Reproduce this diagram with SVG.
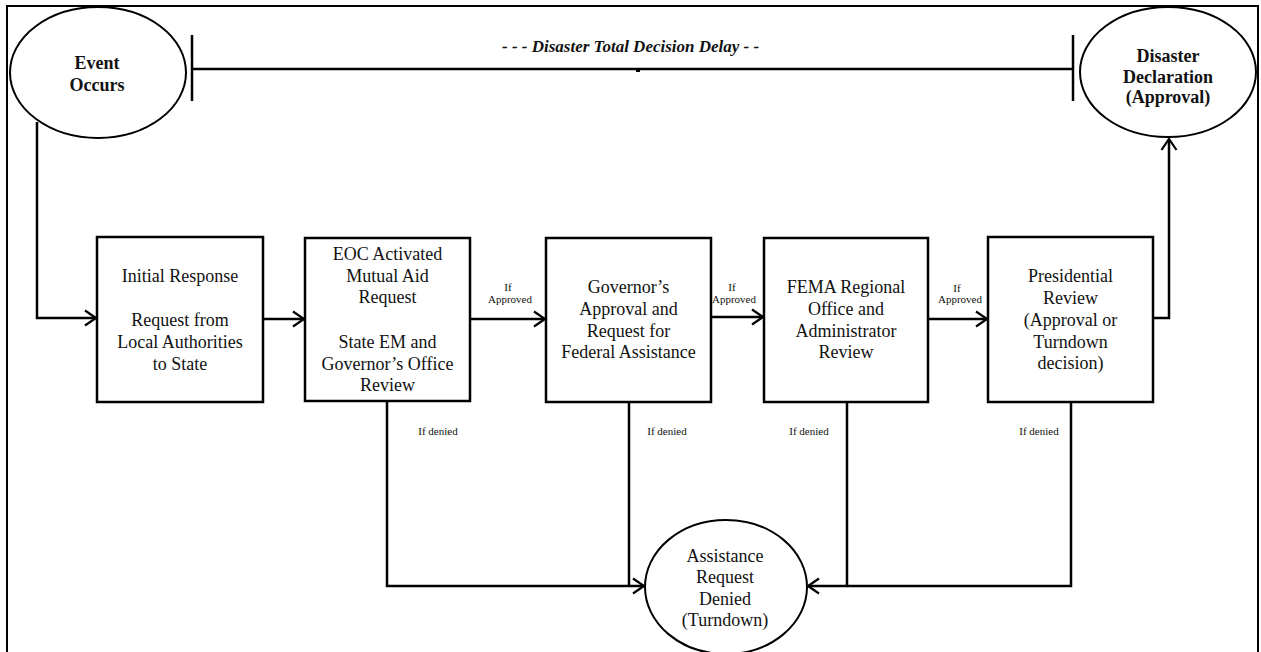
<svg xmlns="http://www.w3.org/2000/svg" width="1261" height="652" viewBox="0 0 1261 652">
<defs>
<style>
.ln{fill:none;stroke:#000;stroke-width:2.5}
.box{fill:#fff;stroke:#000;stroke-width:2.5}
.ell{fill:#fff;stroke:#000;stroke-width:2}
.t{font-family:"Liberation Serif","Times New Roman",serif;font-size:18px;fill:#111;text-anchor:middle}
.b{font-family:"Liberation Serif","Times New Roman",serif;font-size:18px;font-weight:bold;fill:#111;text-anchor:middle}
.s{font-family:"Liberation Serif","Times New Roman",serif;font-size:11px;fill:#111;text-anchor:middle}
.hd{font-family:"Liberation Serif","Times New Roman",serif;font-size:17px;font-weight:bold;font-style:italic;fill:#111}
</style>
<marker id="arr" markerUnits="userSpaceOnUse" markerWidth="16" markerHeight="18" refX="13" refY="9" orient="auto">
<path d="M2,1.5 L13,9 L2,16.5" fill="none" stroke="#000" stroke-width="2.2"/>
</marker>
</defs>
<rect width="1261" height="652" fill="#fff"/>
<rect x="7" y="6" width="1251" height="660" fill="none" stroke="#000" stroke-width="2"/>

<g id="connectors">
<path class="ln" d="M192,69 H1073"/>
<path class="ln" d="M192,35 V101"/>
<path class="ln" d="M1073,35 V101"/>
<path d="M636,71 H640" stroke="#000" stroke-width="2"/>
<path class="ln" d="M37,122 V318 H96" marker-end="url(#arr)"/>
<path class="ln" d="M263,319 H304" marker-end="url(#arr)"/>
<path class="ln" d="M470,319 H545" marker-end="url(#arr)"/>
<path class="ln" d="M711,317 H763" marker-end="url(#arr)"/>
<path class="ln" d="M928,319 H987" marker-end="url(#arr)"/>
<path class="ln" d="M1153,318 H1169 V139" marker-end="url(#arr)"/>
<path class="ln" d="M387,401 V586 H644" marker-end="url(#arr)"/>
<path class="ln" d="M629,402 V586"/>
<path class="ln" d="M1071,402 V586 H847"/>
<path class="ln" d="M847,402 V586 H808" marker-end="url(#arr)"/>
<text class="s" x="508" y="291">If</text>
<text class="s" x="510" y="303">Approved</text>
<text class="s" x="732" y="291">If</text>
<text class="s" x="734" y="303">Approved</text>
<text class="s" x="957" y="292">If</text>
<text class="s" x="960" y="303">Approved</text>
<text class="s" x="438" y="435">If denied</text>
<text class="s" x="667" y="435">If denied</text>
<text class="s" x="809" y="435">If denied</text>
<text class="s" x="1039" y="435">If denied</text>
<text class="hd" x="502" y="52">- - - Disaster Total Decision Delay - -</text>
</g>

<g id="event-occurs">
<ellipse class="ell" cx="98" cy="72.5" rx="88" ry="65.5"/>
<text class="b" x="97" y="69">Event</text>
<text class="b" x="97" y="91">Occurs</text>
</g>

<g id="disaster-declaration">
<ellipse class="ell" cx="1168" cy="72" rx="88" ry="65"/>
<text class="b" x="1168" y="62">Disaster</text>
<text class="b" x="1168" y="83">Declaration</text>
<text class="b" x="1168" y="103">(Approval)</text>
</g>

<g id="initial-response">
<rect class="box" x="97" y="237" width="166" height="165"/>
<text class="t" x="180" y="282">Initial Response</text>
<text class="t" x="180" y="326">Request from</text>
<text class="t" x="180" y="348">Local Authorities</text>
<text class="t" x="180" y="370">to State</text>
</g>

<g id="eoc-activated">
<rect class="box" x="305" y="238" width="165" height="163"/>
<text class="t" x="387.5" y="260">EOC Activated</text>
<text class="t" x="387.5" y="282">Mutual Aid</text>
<text class="t" x="387.5" y="303">Request</text>
<text class="t" x="387.5" y="348">State EM and</text>
<text class="t" x="387.5" y="370">Governor’s Office</text>
<text class="t" x="387.5" y="391">Review</text>
</g>

<g id="governors-approval">
<rect class="box" x="546" y="238" width="165" height="164"/>
<text class="t" x="628.5" y="293">Governor’s</text>
<text class="t" x="628.5" y="315">Approval and</text>
<text class="t" x="628.5" y="337">Request for</text>
<text class="t" x="628.5" y="358">Federal Assistance</text>
</g>

<g id="fema-review">
<rect class="box" x="764" y="238" width="164" height="164"/>
<text class="t" x="846" y="293">FEMA Regional</text>
<text class="t" x="846" y="315">Office and</text>
<text class="t" x="846" y="337">Administrator</text>
<text class="t" x="846" y="358">Review</text>
</g>

<g id="presidential-review">
<rect class="box" x="988" y="237" width="165" height="165"/>
<text class="t" x="1070.5" y="282">Presidential</text>
<text class="t" x="1070.5" y="304">Review</text>
<text class="t" x="1070.5" y="326">(Approval or</text>
<text class="t" x="1070.5" y="348">Turndown</text>
<text class="t" x="1070.5" y="369">decision)</text>
</g>

<g id="assistance-denied">
<ellipse class="ell" cx="726" cy="587" rx="81" ry="67"/>
<text class="t" x="725" y="562">Assistance</text>
<text class="t" x="725" y="583">Request</text>
<text class="t" x="725" y="605">Denied</text>
<text class="t" x="725" y="626">(Turndown)</text>
</g>
</svg>
